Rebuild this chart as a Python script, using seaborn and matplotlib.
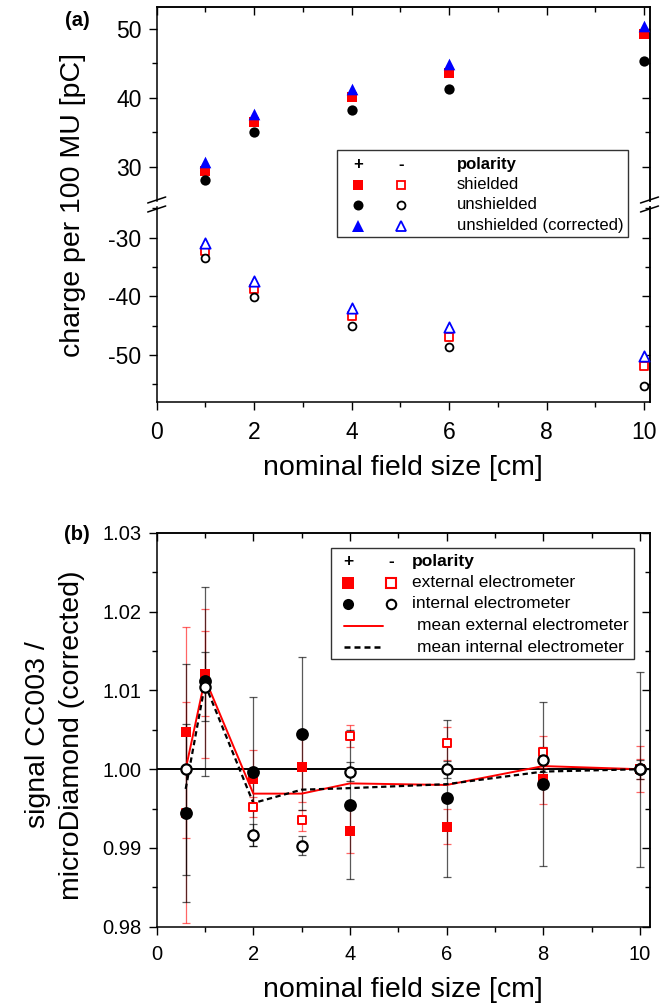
import matplotlib
matplotlib.use('Agg')
import matplotlib.pyplot as plt
from matplotlib.lines import Line2D
from matplotlib.patches import Rectangle
from matplotlib.ticker import MultipleLocator, FormatStrFormatter, NullFormatter
import seaborn as sns

# panel (a): charge per 100 MU, both polarities
field_a = [1, 2, 4, 6, 10]
shielded_pos = [29.4, 36.5, 40.1, 43.6, 49.2]
unshielded_pos = [28.1, 35.0, 38.3, 41.3, 45.4]
corrected_pos = [30.7, 37.7, 41.3, 44.9, 50.4]
shielded_neg = [-32.2, -38.7, -43.3, -46.9, -51.9]
unshielded_neg = [-33.5, -40.1, -45.0, -48.7, -55.3]
corrected_neg = [-30.9, -37.4, -41.9, -45.3, -50.2]

# panel (b): signal ratio CC003 / microDiamond
field_b = [0.6, 1, 2, 3, 4, 6, 8, 10]
ext_pos = [1.0047, 1.0121, 0.9987, 1.0003, 0.9922, 0.9927, 0.9988, 1.0000]
ext_pos_err = [0.0134, 0.0054, 0.0038, 0.0045, 0.0028, 0.0022, 0.0032, 0.0029]
ext_neg = [0.9945, 1.0109, 0.9952, 0.9935, 1.0042, 1.0033, 1.0022, 1.0000]
ext_neg_err = [0.0140, 0.0095, 0.0013, 0.0013, 0.0014, 0.0021, 0.0020, 0.0013]
int_pos = [0.9945, 1.0112, 0.9997, 1.0045, 0.9955, 0.9963, 0.9981, 1.0000]
int_pos_err = [0.0113, 0.0120, 0.0095, 0.0097, 0.0095, 0.0100, 0.0104, 0.0124]
int_neg = [1.0000, 1.0105, 0.9917, 0.9903, 0.9997, 1.0000, 1.0012, 1.0000]
int_neg_err = [0.0134, 0.0044, 0.0014, 0.0012, 0.0012, 0.0011, 0.0016, 0.0012]
mean_ext = [1.0000, 1.0115, 0.9969, 0.9969, 0.9982, 0.9980, 1.0004, 1.0000]
mean_int = [0.9975, 1.0108, 0.9957, 0.9974, 0.9976, 0.9981, 0.9997, 1.0000]

sns.set_theme(style='ticks', rc={'axes.edgecolor': 'black', 'text.color': 'black',
                                 'xtick.color': 'black', 'ytick.color': 'black',
                                 'axes.labelcolor': 'black'})
plt.rcParams['font.family'] = ['Liberation Sans', 'DejaVu Sans']
plt.rcParams['axes.unicode_minus'] = False

W, H = 667, 1007


def fx(px):
    return px / W


def fy(py):
    return 1 - py / H


fig = plt.figure(figsize=(W / 100, H / 100), dpi=100)
L, R = 156.7, 649.5
ax_up = fig.add_axes([fx(L), fy(201), (R - L) / W, (201 - 7.3) / H])
ax_lo = fig.add_axes([fx(L), fy(401.7), (R - L) / W, (401.7 - 207) / H])
ax_b = fig.add_axes([fx(L), fy(926.7), (R - L) / W, (926.7 - 533) / H])


def style_axis(ax, xmaj, xmin, ymaj, ymin, size, top=True, bottom=True):
    for s in ax.spines.values():
        s.set_linewidth(1.1)
    ax.xaxis.set_major_locator(MultipleLocator(xmaj))
    ax.xaxis.set_minor_locator(MultipleLocator(xmin))
    ax.yaxis.set_major_locator(MultipleLocator(ymaj))
    ax.yaxis.set_minor_locator(MultipleLocator(ymin))
    ax.tick_params(which='both', direction='out', width=1, labelsize=size,
                   top=False, right=False, bottom=bottom, labelbottom=bottom)
    ax.tick_params(which='major', length=6, pad=5)
    ax.tick_params(which='minor', length=3.5)
    # mirrored ticks pointing inwards
    sy = ax.secondary_yaxis('right')
    sy.yaxis.set_major_locator(MultipleLocator(ymaj))
    sy.yaxis.set_minor_locator(MultipleLocator(ymin))
    sy.yaxis.set_major_formatter(NullFormatter())
    sy.tick_params(which='both', direction='in', width=1)
    sy.tick_params(which='major', length=6)
    sy.tick_params(which='minor', length=3.5)
    sy.spines['right'].set_linewidth(1.1)
    if top:
        sx = ax.secondary_xaxis('top')
        sx.xaxis.set_major_locator(MultipleLocator(xmaj))
        sx.xaxis.set_minor_locator(MultipleLocator(xmin))
        sx.xaxis.set_major_formatter(NullFormatter())
        sx.tick_params(which='both', direction='in', width=1)
        sx.tick_params(which='major', length=6)
        sx.tick_params(which='minor', length=3.5)
        sx.spines['top'].set_linewidth(1.1)
    else:
        ax.spines['top'].set_visible(False)
    if not bottom:
        ax.spines['bottom'].set_visible(False)


# ---- panel (a) ----
for ax, sq, ci, tr, filled in [(ax_up, shielded_pos, unshielded_pos, corrected_pos, True),
                               (ax_lo, shielded_neg, unshielded_neg, corrected_neg, False)]:
    if filled:
        sns.scatterplot(x=field_a, y=sq, marker='s', s=45, color='red', linewidth=0,
                        ax=ax, zorder=3, clip_on=False)
        sns.scatterplot(x=field_a, y=ci, marker='o', s=55, color='black', linewidth=0,
                        ax=ax, zorder=4, clip_on=False)
        sns.scatterplot(x=field_a, y=tr, marker='^', s=70, color='blue', linewidth=0,
                        ax=ax, zorder=5, clip_on=False)
    else:
        sns.scatterplot(x=field_a, y=sq, marker='s', s=30, facecolor='white', edgecolor='red',
                        linewidth=1.3, ax=ax, zorder=3, clip_on=False)
        sns.scatterplot(x=field_a, y=ci, marker='o', s=32, facecolor='white', edgecolor='black',
                        linewidth=1.3, ax=ax, zorder=4, clip_on=False)
        sns.scatterplot(x=field_a, y=tr, marker='^', s=55, facecolor='white', edgecolor='blue',
                        linewidth=1.3, ax=ax, zorder=5, clip_on=False)

ax_up.set_xlim(0, 10.11)
ax_lo.set_xlim(0, 10.11)
ax_up.set_ylim(25.07, 53.14)
ax_lo.set_ylim(-57.95, -24.77)
style_axis(ax_up, 2, 1, 10, 5, 16.5, top=True, bottom=False)
style_axis(ax_lo, 2, 1, 10, 5, 16.5, top=False, bottom=True)
ax_lo.tick_params(axis='x', which='major', pad=8)
ax_up.set_ylabel('')
ax_lo.set_ylabel('')

# axis break marks
for xpx in (L, R):
    for ypx in (200, 209):
        fig.add_artist(Line2D([fx(xpx - 9), fx(xpx + 9)], [fy(ypx + 3), fy(ypx - 3)],
                              color='black', lw=1.1))

fig.text(fx(73), fy(205), 'charge per 100 MU [pC]', rotation=90, ha='center', va='center',
         fontsize=20.5)
fig.text(fx(403), fy(468), 'nominal field size [cm]', ha='center', va='center', fontsize=20.5)
fig.text(fx(77), fy(20), '(a)', ha='center', va='center', fontsize=14.5, fontweight='bold')

# legend (a)
fig.add_artist(Rectangle((fx(337), fy(236.7)), (628 - 337) / W, (236.7 - 150.5) / H,
                         transform=fig.transFigure, facecolor='white', edgecolor='#333333',
                         lw=1.0, zorder=8))
fig.text(fx(358), fy(164), '+', ha='center', va='center', fontsize=12, fontweight='bold', zorder=9)
fig.text(fx(401), fy(164), '-', ha='center', va='center', fontsize=12, fontweight='bold', zorder=9)
fig.text(fx(457), fy(164), 'polarity', ha='left', va='center', fontsize=12, fontweight='bold', zorder=9)
leg_a = [('s', 'red', 6.5, 5.5, 'shielded', 184.5),
         ('o', 'black', 7.2, 5.7, 'unshielded', 204.7),
         ('^', 'blue', 8.3, 7.4, 'unshielded (corrected)', 225.6)]
for mk, col, ms_f, ms_o, lab, ypx in leg_a:
    fig.add_artist(Line2D([fx(358)], [fy(ypx)], marker=mk, ms=ms_f, mfc=col, mec=col,
                          mew=0, ls='none', zorder=9))
    fig.add_artist(Line2D([fx(401)], [fy(ypx)], marker=mk, ms=ms_o, mfc='white', mec=col,
                          mew=1.3, ls='none', zorder=9))
    fig.text(fx(457), fy(ypx), lab, ha='left', va='center', fontsize=12, zorder=9)

# ---- panel (b) ----
ax_b.axhline(1.0, color='black', lw=1.4, zorder=1)
red_err = (1, 0, 0, 0.6)
blk_err = (0, 0, 0, 0.65)
for yv, ye, col in [(ext_pos, ext_pos_err, red_err), (ext_neg, ext_neg_err, red_err),
                    (int_pos, int_pos_err, blk_err), (int_neg, int_neg_err, blk_err)]:
    ax_b.errorbar(field_b, yv, yerr=ye, fmt='none', ecolor=col, elinewidth=0.9,
                  capsize=3, capthick=0.9, zorder=2, clip_on=False)

sns.lineplot(x=field_b, y=mean_ext, color='red', lw=1.4, ax=ax_b, zorder=3, legend=False)
sns.lineplot(x=field_b, y=mean_int, color='black', lw=1.6, linestyle=(0, (2.4, 1.6)),
             ax=ax_b, zorder=3, legend=False)

sns.scatterplot(x=field_b, y=ext_pos, marker='s', s=62, color='red', linewidth=0,
                ax=ax_b, zorder=4, clip_on=False)
sns.scatterplot(x=field_b, y=ext_neg, marker='s', s=40, facecolor='white', edgecolor='red',
                linewidth=1.4, ax=ax_b, zorder=4, clip_on=False)
sns.scatterplot(x=field_b, y=int_pos, marker='o', s=85, color='black', linewidth=0,
                ax=ax_b, zorder=5, clip_on=False)
sns.scatterplot(x=field_b, y=int_neg, marker='o', s=55, facecolor='white', edgecolor='black',
                linewidth=1.6, ax=ax_b, zorder=6, clip_on=False)

ax_b.set_xlim(0, 10.2)
ax_b.set_ylim(0.98, 1.03)
style_axis(ax_b, 2, 1, 0.01, 0.005, 14.5)
ax_b.tick_params(axis='x', which='major', pad=7)
ax_b.yaxis.set_major_formatter(FormatStrFormatter('%.2f'))
ax_b.set_xlabel('')
ax_b.set_ylabel('')

fig.text(fx(55), fy(735), 'signal CC003 /\nmicroDiamond (corrected)', rotation=90,
         ha='center', va='center', multialignment='center', fontsize=20.5, linespacing=1.4)
fig.text(fx(403), fy(990), 'nominal field size [cm]', ha='center', va='center', fontsize=20.5)
fig.text(fx(77), fy(535), '(b)', ha='center', va='center', fontsize=14.5, fontweight='bold')

# legend (b)
fig.add_artist(Rectangle((fx(331), fy(659.3)), (634 - 331) / W, (659.3 - 547.7) / H,
                         transform=fig.transFigure, facecolor='white', edgecolor='#333333',
                         lw=1.0, zorder=8))
fig.text(fx(348), fy(561.7), '+', ha='center', va='center', fontsize=12.5, fontweight='bold', zorder=9)
fig.text(fx(391), fy(561.7), '-', ha='center', va='center', fontsize=12.5, fontweight='bold', zorder=9)
fig.text(fx(412), fy(561.7), 'polarity', ha='left', va='center', fontsize=12.5, fontweight='bold', zorder=9)
leg_b = [('s', 'red', 'external electrometer', 582.7),
         ('o', 'black', 'internal electrometer', 604)]
for mk, col, lab, ypx in leg_b:
    fig.add_artist(Line2D([fx(348)], [fy(ypx)], marker=mk, ms=8, mfc=col, mec=col,
                          mew=0, ls='none', zorder=9))
    fig.add_artist(Line2D([fx(391)], [fy(ypx)], marker=mk, ms=6.8, mfc='white', mec=col,
                          mew=1.5, ls='none', zorder=9))
    fig.text(fx(412), fy(ypx), lab, ha='left', va='center', fontsize=12.5, zorder=9)
fig.add_artist(Line2D([fx(344), fx(383)], [fy(626), fy(626)], color='red', lw=1.4, zorder=9))
fig.add_artist(Line2D([fx(344), fx(383)], [fy(647.3), fy(647.3)], color='black', lw=1.8,
                      ls=(0, (2.4, 1.6)), zorder=9))
fig.text(fx(417), fy(626), 'mean external electrometer', ha='left', va='center', fontsize=12.5, zorder=9)
fig.text(fx(417), fy(647.3), 'mean internal electrometer', ha='left', va='center', fontsize=12.5, zorder=9)

fig.savefig('out.png', dpi=100)
